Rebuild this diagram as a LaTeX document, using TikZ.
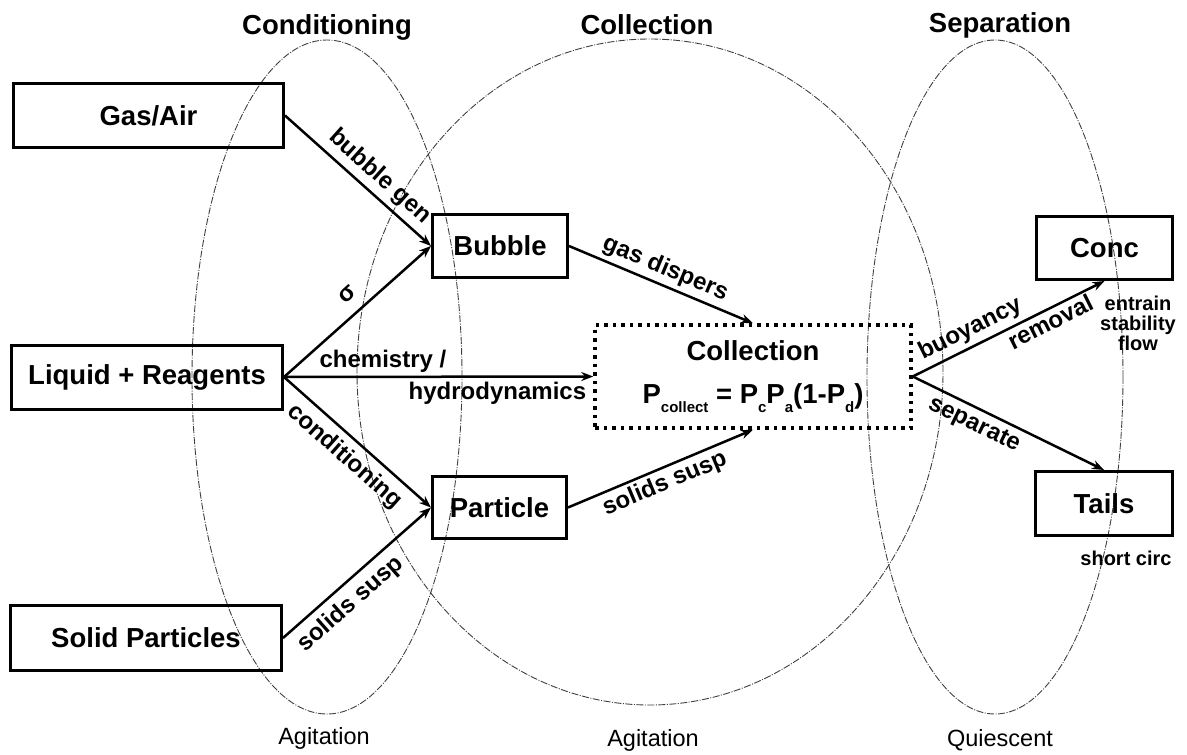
\documentclass[tikz,border=0pt]{standalone}
\usepackage{fontspec}
\setmainfont{Liberation Sans}
\usetikzlibrary{arrows.meta}
\newcommand{\mysub}[1]{\raisebox{-0.32em}{\fontsize{15}{15}\selectfont #1}}
\begin{document}
\begin{tikzpicture}[x=1pt,y=-1pt,
  box/.style={draw, line width=3pt, inner sep=0pt, font=\fontsize{27.5}{30}\selectfont\bfseries},
  arr/.style={line width=2.5pt, -{Stealth[length=12pt,width=9pt]}},
  elab/.style={font=\fontsize{24}{26}\selectfont\bfseries, sloped, inner sep=2pt},
  zone/.style={line width=0.9pt, dash pattern=on 7pt off 1.5pt on 1pt off 1.5pt, black!75},
  head/.style={font=\fontsize{27.5}{30}\selectfont\bfseries},
  foot/.style={font=\fontsize{23.5}{26}\selectfont},
  note/.style={font=\fontsize{20}{20}\selectfont\bfseries, align=center},
  dotbox/.style={draw, line width=3.5pt, dash pattern=on 3.5pt off 5pt, align=center,
    font=\fontsize{27.5}{30}\selectfont\bfseries}
]
\useasboundingbox (0,0) rectangle (1187,755);

% zones
\draw[zone] (327,377) ellipse [x radius=135pt, y radius=337pt];
\draw[zone] (650,372) ellipse [x radius=293pt, y radius=333pt];
\draw[zone] (995,377) ellipse [x radius=128pt, y radius=337pt];

% headers and footers
\node[head] (hcond) at (327,27) {Conditioning};
\node[head] (hcoll) at (647,25) {Collection};
\node[head] (hsep) at (1000,25) {Separation};
\node[foot] (f1) at (324,738) {Agitation};
\node[foot] (f2) at (653,740) {Agitation};
\node[foot] (f3) at (1000,740) {Quiescent};

% boxes
\node[box, minimum width=270pt, minimum height=64pt] (gas) at (148.5,115.5) {Gas/Air};
\node[box, minimum width=271pt, minimum height=64pt] (liq) at (147,377) {Liquid + Reagents};
\node[box, minimum width=271pt, minimum height=65pt] (sol) at (146,638) {Solid Particles};
\node[box, minimum width=135pt, minimum height=63pt] (bub) at (500,246) {Bubble};
\node[box, minimum width=134pt, minimum height=62pt] (par) at (499.5,507.5) {Particle};
\node[box, minimum width=136pt, minimum height=63pt] (conc) at (1104.5,248) {Conc};
\node[box, minimum width=137pt, minimum height=64pt] (tails) at (1104,503.5) {Tails};
\node[dotbox, minimum width=316pt, minimum height=103pt] (coll) at (753,376.5)
  {Collection\\[13pt]P\mysub{collect} = P\mysub{c}P\mysub{a}(1-P\mysub{d})};

% notes
\node[note] (n1) at (1138,323) {entrain\\stability\\flow};
\node[note] (n2) at (1126,558) {short circ};

% connectors
\draw[arr] (gas.east) -- node[elab, pos=0.57, above=3pt] {bubble gen} (bub.west);
\draw[arr] (liq.east) -- node[elab, pos=0.52, above=10pt] {σ} (bub.west);
\draw[arr] (liq.east) -- node[elab, pos=0.32, above=1pt] {chemistry /}
  node[elab, pos=0.69, below=2pt] {hydrodynamics} (coll.west);
\draw[arr] (liq.east) -- node[elab, pos=0.5, below=5pt] {conditioning} (par.west);
\draw[arr] (sol.east) -- node[elab, pos=0.37, below=5pt] {solids susp} (par.west);
\draw[arr] (bub.east) -- node[elab, pos=0.49, above=1.5pt] {gas dispers} (coll.north);
\draw[arr] (par.east) -- node[elab, pos=0.49, below=1.5pt] {solids susp} (coll.south);
\draw[arr] (coll.east) -- node[elab, pos=0.34, above=2pt] {buoyancy}
  node[elab, pos=0.69, below=0.5pt] {removal} (conc.south);
\draw[arr] (coll.east) -- node[elab, pos=0.36, below=3pt] {separate} (tails.north);
\end{tikzpicture}
\end{document}
